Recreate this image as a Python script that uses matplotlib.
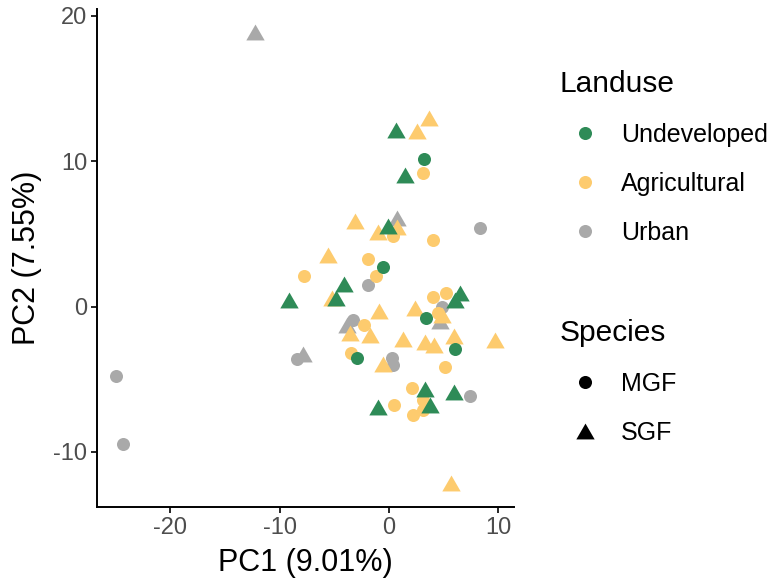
import matplotlib.pyplot as plt
from matplotlib.lines import Line2D

plt.rcParams['font.family'] = ['Liberation Sans', 'DejaVu Sans']
plt.rcParams['axes.unicode_minus'] = False

# PCA scores, grouped by land use and species
undev_mgf_pc1 = [3.23, -0.58, 3.39, 6.0, -2.93]
undev_mgf_pc2 = [10.16, 2.7, -0.8, -2.9, -3.55]
undev_sgf_pc1 = [0.64, 1.44, -0.06, -4.07, -9.13, -4.8, 6.54, 6.08, 3.34, 5.92, 3.75, -0.99]
undev_sgf_pc2 = [12.13, 9.06, 5.56, 1.58, 0.45, 0.58, 0.94, 0.46, -5.68, -5.9, -6.77, -6.92]

agri_mgf_pc1 = [3.14, 0.39, 4.07, -1.89, -1.19, -7.75, 4.05, 5.2, 4.5, -2.29, -3.5, 5.12,
                2.08, 3.14, 3.14, 0.5, 2.22]
agri_mgf_pc2 = [9.18, 4.84, 4.58, 3.27, 2.13, 2.09, 0.65, 0.92, -0.45, -1.25, -3.21, -4.16,
                -5.62, -6.42, -7.1, -6.75, -7.5]
agri_sgf_pc1 = [3.69, 2.53, -3.11, 0.76, -0.98, -5.61, -5.24, -0.89, 2.42, 4.82, -3.52, -1.77,
                1.24, 3.29, 4.14, 5.97, 9.7, -0.57, 5.65]
agri_sgf_pc2 = [12.97, 12.06, 5.87, 5.49, 5.12, 3.55, 0.58, -0.29, -0.09, -0.6, -1.81, -1.96,
                -2.22, -2.41, -2.62, -2.06, -2.32, -3.99, -12.15]

urban_mgf_pc1 = [8.37, -1.89, 4.82, -3.27, -8.37, 0.25, 0.39, -25.0, -24.3, 7.41]
urban_mgf_pc2 = [5.4, 1.51, -0.04, -0.91, -3.6, -3.53, -4.0, -4.75, -9.45, -6.13]
urban_sgf_pc1 = [-12.26, 0.7, 4.67, -3.87, -7.84]
urban_sgf_pc2 = [18.91, 6.08, -0.98, -1.26, -3.3]

landuse_names = ['Undeveloped', 'Agricultural', 'Urban']
landuse_colors = ['#2E8B57', '#FDCB6E', '#A9A9A9']
species_names = ['MGF', 'SGF']

# equilateral triangle like R's pch 17
tri = [(0, 0.433), (-0.5, -0.433), (0.5, -0.433)]
circle_size = 88
tri_size = 175

fig = plt.figure(figsize=(7.72, 5.86), dpi=100)
ax = fig.add_axes([97 / 772, 79 / 586, 416.6 / 772, 497.6 / 586])

groups = [
    (urban_mgf_pc1, urban_mgf_pc2, urban_sgf_pc1, urban_sgf_pc2, landuse_colors[2]),
    (agri_mgf_pc1, agri_mgf_pc2, agri_sgf_pc1, agri_sgf_pc2, landuse_colors[1]),
    (undev_mgf_pc1, undev_mgf_pc2, undev_sgf_pc1, undev_sgf_pc2, landuse_colors[0]),
]
for mx, my, sx, sy, col in groups:
    ax.scatter(mx, my, s=circle_size, marker='o', color=col, linewidths=0)
    ax.scatter(sx, sy, s=tri_size, marker=tri, color=col, linewidths=0)

ax.set_xlim(-26.7, 11.4)
ax.set_ylim(-13.8, 20.45)
ax.set_xticks([-20, -10, 0, 10])
ax.set_yticks([-10, 0, 10, 20])

for side in ['top', 'right']:
    ax.spines[side].set_visible(False)
for side in ['left', 'bottom']:
    ax.spines[side].set_linewidth(1.4)
ax.tick_params(length=4, width=1.2, pad=3, labelsize=17, labelcolor='#4D4D4D')

ax.set_xlabel('PC1 (9.01%)', fontsize=22, labelpad=7)
ax.set_ylabel('PC2 (7.55%)', fontsize=22, labelpad=8)

# legends
leg_kw = dict(loc='upper left', frameon=False, fontsize=18, title_fontsize=21.5,
              alignment='left', borderpad=0, borderaxespad=0, handlelength=2.0,
              handletextpad=0.45, labelspacing=1.0)

land_handles = [Line2D([], [], ls='none', marker='o', markersize=9.4, color=c, markeredgewidth=0)
                for c in landuse_colors]
leg1 = fig.legend(land_handles, landuse_names, title='Landuse',
                  bbox_to_anchor=(560 / 772, 1 - 70 / 586), **leg_kw)

sp_handles = [Line2D([], [], ls='none', marker='o', markersize=9.4, color='black', markeredgewidth=0),
              Line2D([], [], ls='none', marker=tri, markersize=13.2, color='black', markeredgewidth=0)]
leg2 = fig.legend(sp_handles, species_names, title='Species',
                  bbox_to_anchor=(560 / 772, 1 - 319 / 586), **leg_kw)

fig.savefig('out.png', dpi=100)
